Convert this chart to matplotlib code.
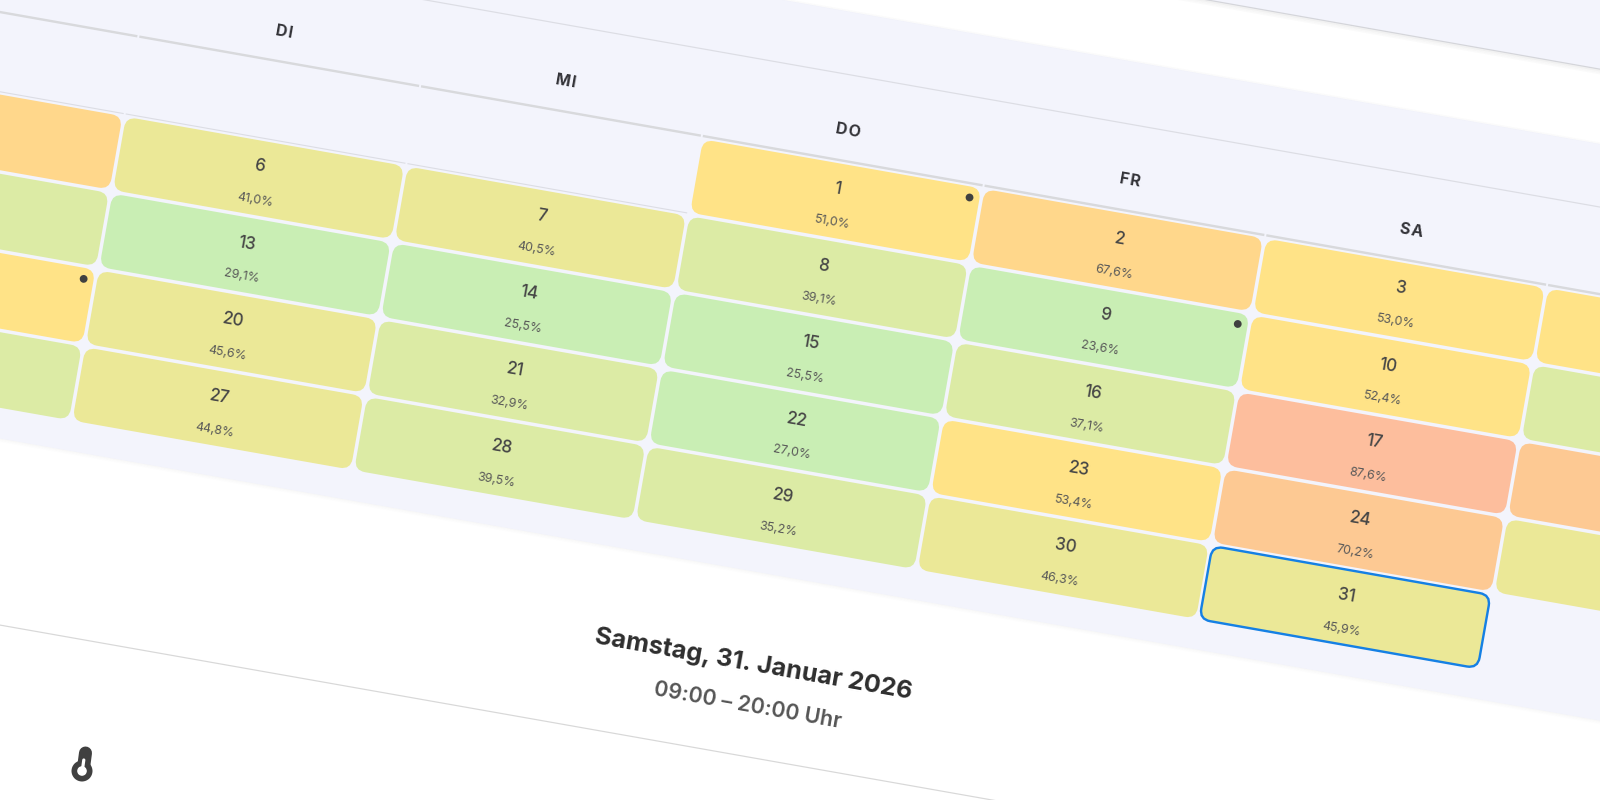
import matplotlib
matplotlib.use("Agg")
import matplotlib.pyplot as plt
from matplotlib.patches import FancyBboxPatch, Rectangle, Circle
from matplotlib.transforms import Affine2D

plt.rcParams['font.family'] = ['Inter', 'DejaVu Sans']

# Data
weekday_columns = [1, 2, 3, 4, 5]
weekday_labels = ["D\u200aI", "M\u200aI", "D\u200aO", "F\u200aR", "S\u200aA"]
visible_days = [1, 2, 3, 6, 7, 8, 9, 10, 13, 14, 15, 16, 17, 20, 21, 22, 23, 24, 27, 28, 29, 30, 31]
visible_pct = [51.0, 67.6, 53.0, 41.0, 40.5, 39.1, 23.6, 52.4, 29.1, 25.5, 25.5, 37.1, 87.6,
               45.6, 32.9, 27.0, 53.4, 70.2, 44.8, 39.5, 35.2, 46.3, 45.9]
# cells cut off by the picture edge: number unreadable, value estimated from the colour
cut_days = [4, 5, 11, 12, 18, 19, 25, 26]
cut_pct = [52.0, 65.0, 36.0, 36.0, 72.0, 52.0, 44.0, 36.0]
marked_days = [1, 9, 19]
selected_day = 31
title_text = "Samstag, 31. Januar 2026"
subtitle_text = "09:00 – 20:00 Uhr"

band_limits = [30, 40, 50, 60, 70, 80, 1000]
band_colors = ["#c9eeb4", "#dcebA5", "#ebe897", "#ffe387", "#ffd78b", "#fdc993", "#fdbe9d"]

PANEL = "#f3f4fc"
ANGLE = 10.0
CW, CH = 286.1, 78.0
BW, BH = 282.6, 74.5
PX = 0.72


def band(p):
    for lim, col in zip(band_limits, band_colors):
        if p < lim:
            return col
    return band_colors[-1]


def pos(day):
    i = day + 2
    return (i % 7) * CW, (i // 7) * CH


fig = plt.figure(figsize=(16, 8), dpi=100, facecolor="white")
ax = fig.add_axes([0, 0, 1, 1])
ax.set_xlim(0, 1600)
ax.set_ylim(800, 0)
ax.axis("off")
tf = Affine2D().rotate_deg(ANGLE).translate(-9.5, 51) + ax.transData


def hline(v, u0, u1, color, lw, alpha=1.0, z=2):
    ax.plot([u0, u1], [v, v], color=color, lw=lw * PX, alpha=alpha, transform=tf, zorder=z,
            solid_capstyle="butt")


# panels
ax.add_patch(Rectangle((-600, -188), 3200, 568, fc=PANEL, ec="none", transform=tf, zorder=1))
ax.add_patch(Rectangle((-600, -800), 3200, 538.4, fc=PANEL, ec="none", transform=tf, zorder=1))
hline(-261.6, -600, 2600, "#d4d5da", 1.2)
for k, a in enumerate([0.10, 0.06, 0.03]):
    hline(-260.2 + k * 1.5, -600, 2600, "#777777", 1.5, a)
for k, a in enumerate([0.03, 0.02]):
    hline(-188 - 1 + k, -600, 2600, "#888888", 1, a)
for k, a in enumerate([0.05, 0.03, 0.015]):
    hline(380.5 + k * 1.2, -600, 2600, "#888888", 1.2, a)
hline(-125.8, -600, 2600, "#dcdde4", 1.2)
hline(563.7, -600, 2600, "#d8d8d8", 1.2)

# header
for c in range(7):
    u = c * CW
    hline(-40, u - CW / 2 + 1, u + CW / 2 - 1, "#d8d9dc", 2.4)
    if c < 3:
        hline(38.5, u - CW / 2 + 1, u + CW / 2 - 1, "#dcdde4", 1.1)
for c, lab in zip(weekday_columns, weekday_labels):
    ax.text(c * CW, -70, lab, transform=tf, rotation=-ANGLE, rotation_mode="anchor", ha="center",
            va="center", fontsize=11.5, fontweight="bold", color="#333338", zorder=5)

# cells
for d, p in list(zip(visible_days, visible_pct)) + list(zip(cut_days, cut_pct)):
    u, v = pos(d)
    sel = d == selected_day
    ax.add_patch(FancyBboxPatch((u - BW / 2 + 10, v - BH / 2 + 10.5), BW - 20, BH - 20,
                                boxstyle="round,pad=10,rounding_size=11", fc=band(p),
                                ec="#1580e4" if sel else "none", lw=2.4 * PX if sel else 0,
                                transform=tf, zorder=3))

for d, p in zip(visible_days, visible_pct):
    u, v = pos(d)
    ax.text(u, v - 10.7, str(d), transform=tf, rotation=-ANGLE, rotation_mode="anchor", ha="center",
            va="center", fontsize=12.3, fontweight="medium", color="#464646", zorder=5)
    ax.text(u, v + 22.7, f"{p:.1f}".replace(".", ",") + "%", transform=tf, rotation=-ANGLE,
            rotation_mode="anchor", ha="center", va="center", fontsize=8.9, color="#585858", zorder=5)

for d in marked_days:
    u, v = pos(d)
    ax.add_patch(Circle((u + BW / 2 - 10, v - BH / 2 + 11.5), 3.9, fc="#404040", ec="none",
                        transform=tf, zorder=5))

# detail text
u3 = 3 * CW
ax.text(u3, 472, title_text, transform=tf, rotation=-ANGLE, rotation_mode="anchor", ha="center",
        va="center", fontsize=18.2, fontweight="bold", color="#2e2e2e", zorder=5)
ax.text(u3 + 1, 513, subtitle_text, transform=tf, rotation=-ANGLE, rotation_mode="anchor", ha="center",
        va="center", fontsize=15.4, fontweight="semibold", color="#555555", zorder=5)

# thermometer icon
ax.plot([85.5, 83.5], [753, 768], color="#404040", lw=13 * PX, solid_capstyle="round", zorder=5)
ax.add_patch(Circle((82, 771), 10.5, fc="#404040", ec="none", zorder=5))
ax.add_patch(Circle((82, 771), 4.8, fc="white", ec="none", zorder=6))
ax.plot([83.8, 82.4], [760, 770], color="white", lw=3.2 * PX, solid_capstyle="round", zorder=6)

fig.savefig("out.png", dpi=100, facecolor="white")
